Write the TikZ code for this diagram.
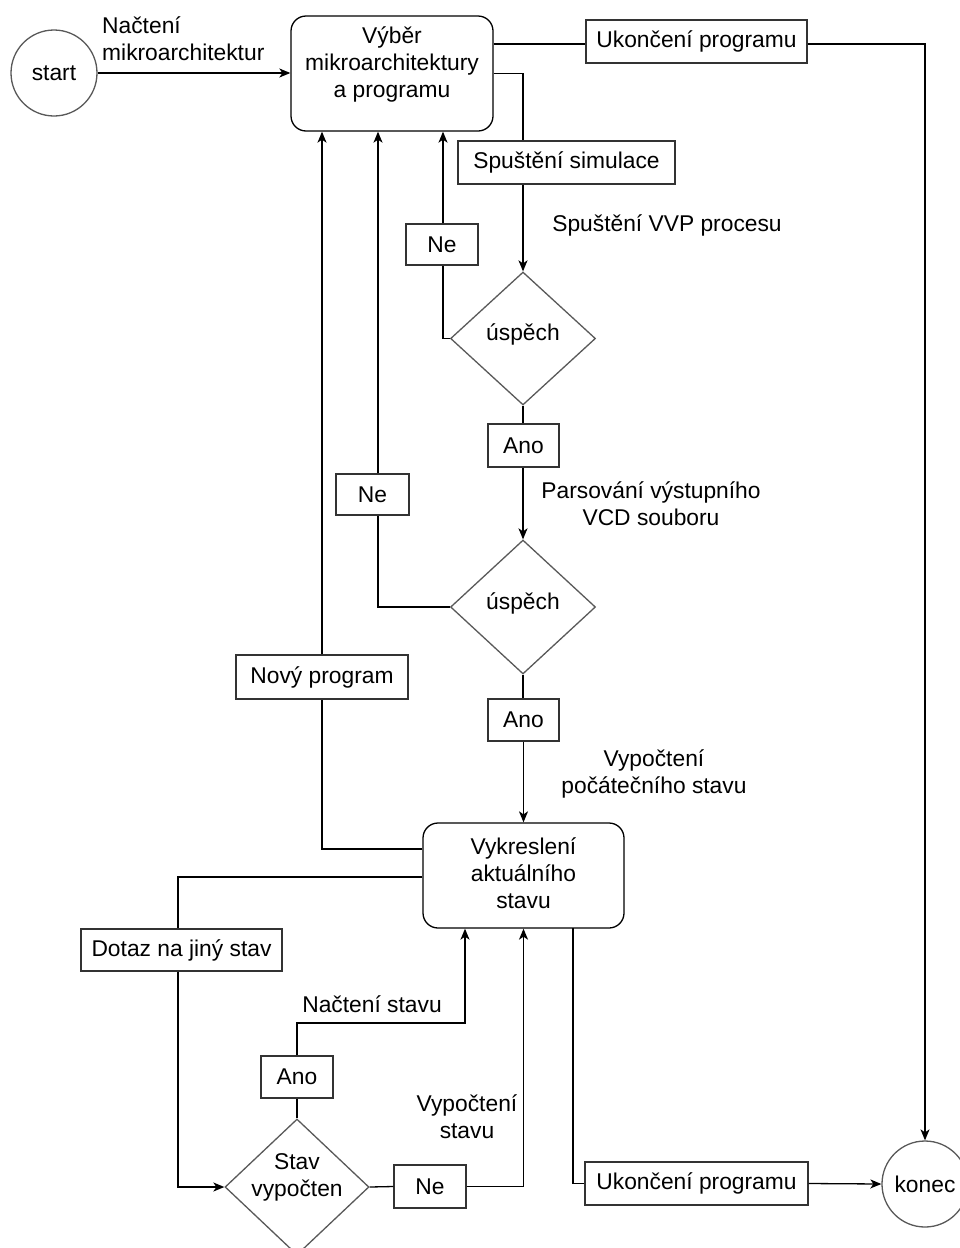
\documentclass[tikz,border=0pt]{standalone}
\usepackage{fontspec}
\setmainfont{Liberation Sans}
\usetikzlibrary{shapes.geometric,arrows.meta}
\begin{document}
\begin{tikzpicture}[x=1pt,y=-1pt,
  every node/.style={font=\fontsize{22.8}{27}\selectfont, inner sep=0pt},
  ln/.style={line width=1.3pt, draw=black},
  arr/.style={ln, -{Stealth[length=11pt,width=9pt,inset=3pt]}},
  proc/.style={draw=black, line width=1.3pt, rounded corners=15pt, align=center, fill=white},
  lbl/.style={draw=black!80, line width=1.3pt, fill=white},
  dec/.style={diamond, draw=black!65, line width=1.3pt, fill=white, align=center},
  term/.style={circle, draw=black!65, line width=1.3pt, fill=white},
  txt/.style={align=center}
]
\useasboundingbox (0,0) rectangle (959,1248);

% main nodes
\node[term, minimum size=86pt] (start) at (54,73) {start};
\node[proc, minimum width=202pt, minimum height=115pt] (box1) at (392,73.5) {};
\node[txt] (box1t) at (392,64) {Výběr\\mikroarchitektury\\a programu};
\node[dec, minimum width=145pt, minimum height=133pt] (d1) at (523,338.5) {};
\node[txt] (d1t) at (523,334) {úspěch};
\node[dec, minimum width=145pt, minimum height=134pt] (d2) at (523,607) {};
\node[txt] (d2t) at (523,603) {úspěch};
\node[proc, minimum width=201pt, minimum height=105pt] (box2) at (523.5,875.5) {};
\node[txt] (box2t) at (523.5,873) {Vykreslení\\aktuálního\\stavu};
\node[dec, minimum width=144pt, minimum height=136pt] (d3) at (297,1187) {};
\node[txt] (d3t) at (297,1177) {Stav\\vypočten};
\node[term, minimum size=86pt] (konec) at (925,1184) {konec};

% label boxes
\node[lbl, minimum width=221pt, minimum height=43pt] (uk1) at (696.5,41.5) {Ukončení programu};
\node[lbl, minimum width=217pt, minimum height=43pt] (sim) at (566.5,162.5) {Spuštění simulace};
\node[lbl, minimum width=72pt, minimum height=41pt] (ne1) at (442,244.5) {Ne};
\node[lbl, minimum width=71pt, minimum height=43pt] (ano1) at (523.5,445.5) {Ano};
\node[lbl, minimum width=73pt, minimum height=41pt] (ne2) at (372.5,494.5) {Ne};
\node[lbl, minimum width=172pt, minimum height=44pt] (nov) at (322,677) {Nový program};
\node[lbl, minimum width=71pt, minimum height=42pt] (ano2) at (523.5,720) {Ano};
\node[lbl, minimum width=201pt, minimum height=42pt] (dotaz) at (181.5,950) {Dotaz na jiný stav};
\node[lbl, minimum width=72pt, minimum height=42pt] (ano3) at (297,1077) {Ano};
\node[lbl, minimum width=72pt, minimum height=43pt] (ne3) at (430,1186.5) {Ne};
\node[lbl, minimum width=223pt, minimum height=43pt] (uk2) at (696.5,1183.5) {Ukončení programu};

% free text labels
\node[txt, align=left, anchor=west] (t1) at (102,38.5) {Načtení\\mikroarchitektur};
\node[txt] (t2) at (667,225) {Spuštění VVP procesu};
\node[txt] (t3) at (651,503.5) {Parsování výstupního\\VCD souboru};
\node[txt] (t4) at (654,773.5) {Vypočtení\\počátečního stavu};
\node[txt] (t5) at (372,1004) {Načtení stavu};
\node[txt] (t6) at (467,1116.5) {Vypočtení\\stavu};

% helper coordinates
\coordinate (xne2) at (378,494.5);
\coordinate (nsk) at (465,1023);
\coordinate (dl) at (178,950);
\coordinate (ex) at (573,928);

% connectors
\draw[arr] (start.east) -- (start.east -| box1.west);
\draw[ln] (box1.east |- 0,44) -- (uk1.west |- 0,44);
\draw[arr] (uk1.east |- 0,44) -| (konec.north);
\draw[ln] (box1.east) -| (d1.north |- sim.north);
\draw[arr] (d1.north |- sim.south) -- (d1.north);
\draw[ln] (d1.west) -| ([xshift=1pt]ne1.south);
\draw[arr] ([xshift=1pt]ne1.north) -- ([xshift=1pt]ne1.north |- box1.south);
\draw[ln] (d1.south) -- (ano1.north -| d1.south);
\draw[arr] (ano1.south -| d2.north) -- (d2.north);
\draw[ln] (d2.west) -| (xne2 |- ne2.south);
\draw[arr] (xne2 |- ne2.north) -- (xne2 |- box1.south);
\draw[ln] (d2.south) -- (ano2.north -| d2.south);
\draw[arr] (ano2.south -| box2.north) -- (box2.north);
\draw[ln] (box2.west |- 0,849) -| (nov.south);
\draw[arr] (nov.north) -- (nov.north |- box1.south);
\draw[ln] (box2.west |- 0,877) -| (dl |- dotaz.north);
\draw[arr] (dl |- dotaz.south) |- (d3.west);
\draw[ln] (d3.north) -- (ano3.south);
\draw[arr] (ano3.north) |- (nsk) -- (nsk |- box2.south);
\draw[ln] (d3.east) -- (ne3.west);
\draw[arr] (ne3.east) -| (box2.south);
\draw[ln] (ex) |- (uk2.west);
\draw[arr] (uk2.east) -- (konec.west);
\end{tikzpicture}
\end{document}
